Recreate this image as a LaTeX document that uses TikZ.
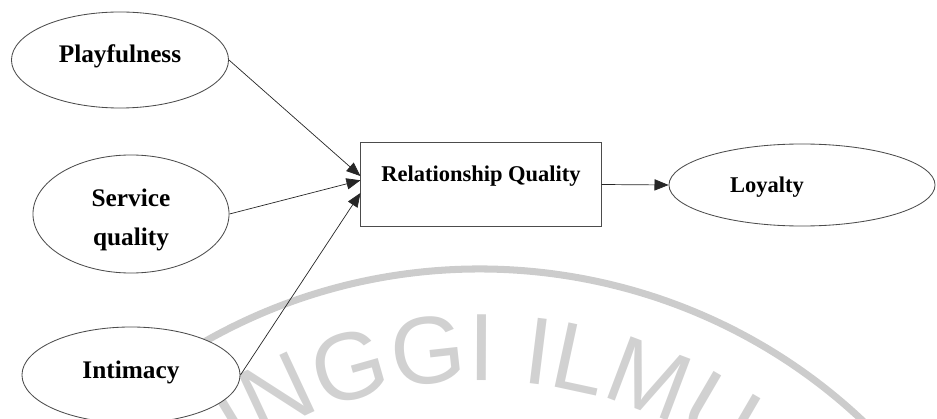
\documentclass[tikz,border=0pt]{standalone}
\usepackage{fontspec}
\setmainfont{Liberation Serif}
\newfontfamily\wmfont{Liberation Sans}
\usetikzlibrary{shapes.geometric,arrows.meta,decorations.text,calc}
\begin{document}
\begin{tikzpicture}[x=0.025cm,y=0.025cm,
  lat/.style={ellipse, draw=black!70, line width=0.6pt, fill=white, inner sep=0pt},
  boxst/.style={rectangle, draw=black!70, line width=0.7pt, fill=white, inner sep=0pt, minimum width=6cm, minimum height=2.075cm},
  lbl/.style={font=\fontsize{18}{28}\selectfont\bfseries, align=center, inner sep=0pt},
  lblr/.style={font=\fontsize{16}{20}\selectfont\bfseries, inner sep=0pt},
  conn/.style={line width=0.5pt, draw=black!85, -{Triangle[length=10pt,width=8pt]}},
  wmarc/.style={line width=5pt, draw=black!20}
]
\useasboundingbox (0,0) rectangle (937,-419);
\clip (0,0) rectangle (937,-419);
% watermark
\coordinate (wmc) at (480,-827);
\draw[wmarc] ($(wmc)+(126:558)$) arc[start angle=126, end angle=36, radius=558];
\path[decorate, decoration={text along path, text format delimiters={|}{|},
  text={|\wmfont\fontsize{68}{68}\selectfont\color{black!18}|INGGI ILMU}}]
  ($(wmc)+(122.9:446)$) arc[start angle=122.9, end angle=20, radius=446];
% nodes
\node[lat, minimum width=5.425cm, minimum height=2.4cm,
  label={[lbl,yshift=0.1cm]center:Playfulness}] (p) at (120,-60) {};
\node[lat, minimum width=4.9cm, minimum height=2.95cm,
  label={[lbl,yshift=-0.15cm]center:Service\\quality}] (s) at (131,-214) {};
\node[lat, minimum width=5.45cm, minimum height=2.4cm,
  label={[lbl,yshift=0.075cm]center:Intimacy}] (i) at (131,-375) {};
\node[boxst, label={[lblr,yshift=0.2cm]center:Relationship Quality}] (rq) at (481,-184.5) {};
\node[lat, minimum width=6.65cm, minimum height=2.05cm,
  label={[lblr,xshift=-0.875cm,yshift=-0.05cm]center:Loyalty}] (l) at (802,-185) {};
% connectors
\draw[conn] (p.east) -- (rq.176);
\draw[conn] (s.east) -- (rq.178);
\draw[conn] (i.east) -- (rq.184);
\draw[conn] (rq.east) -- (l.west);
\end{tikzpicture}
\end{document}
